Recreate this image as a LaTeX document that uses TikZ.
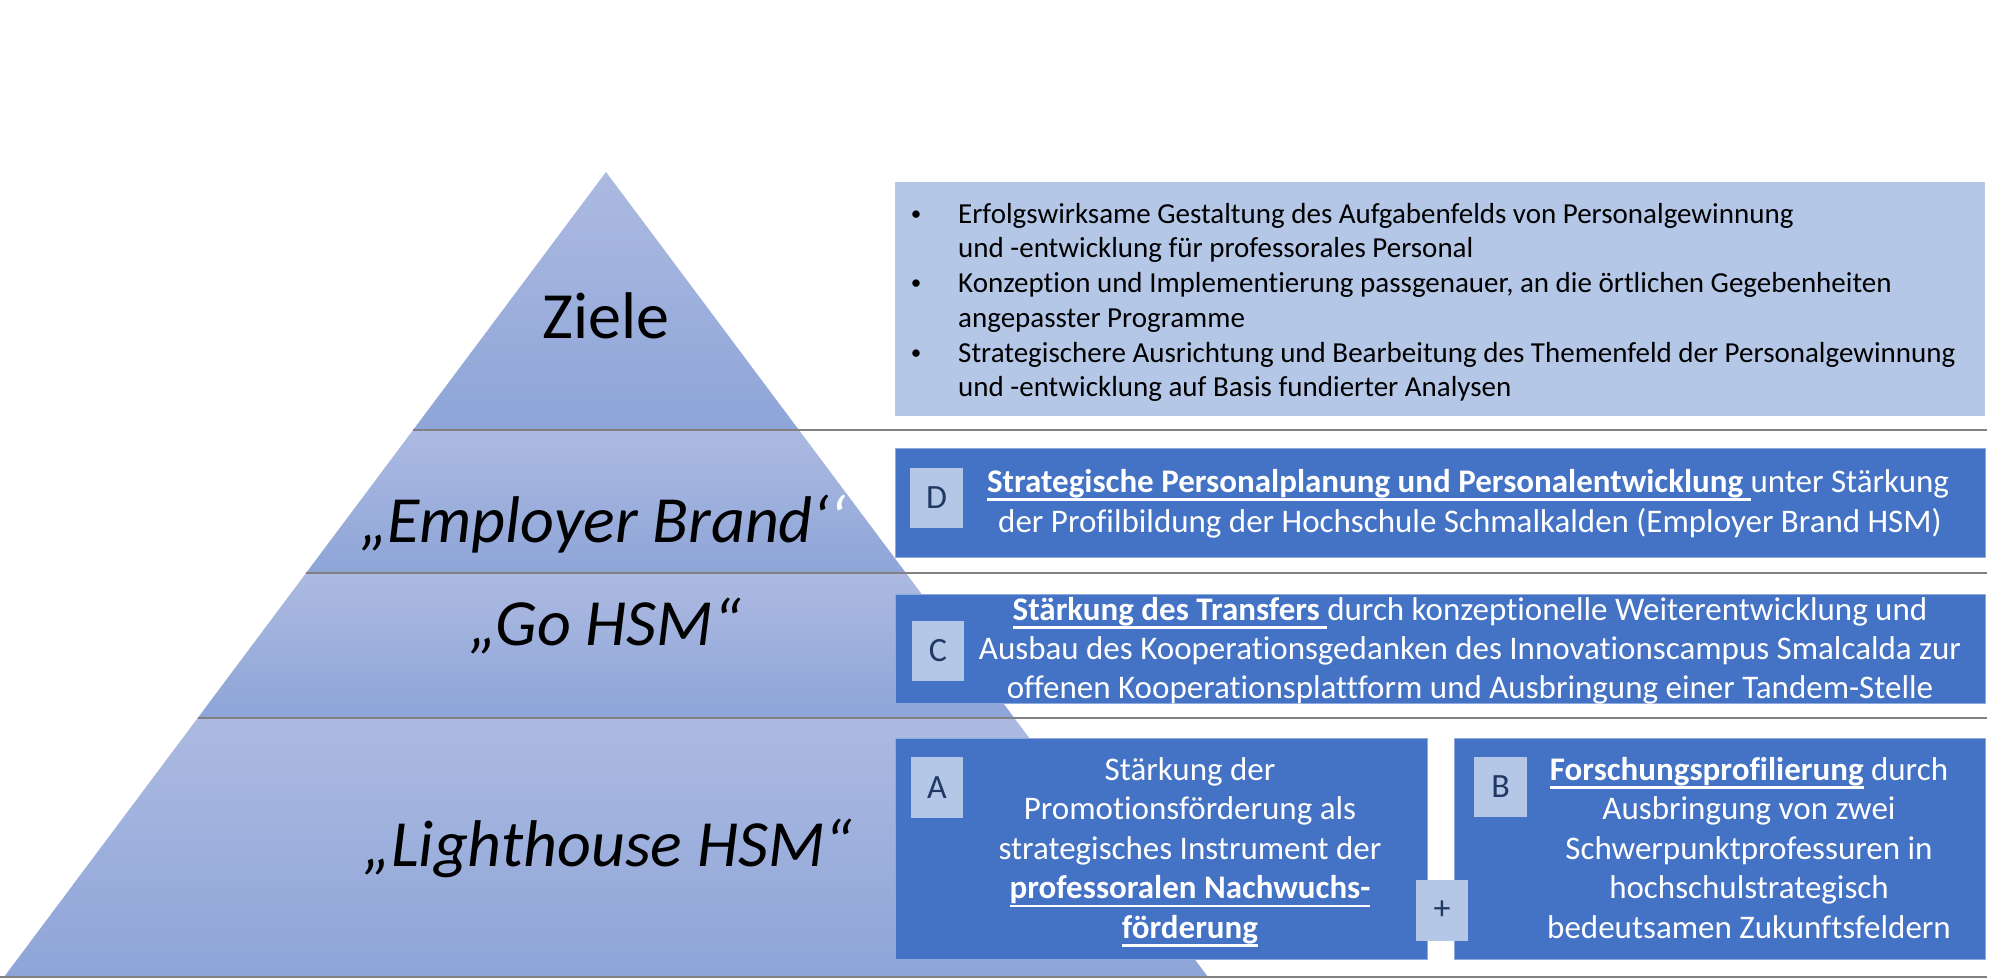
\documentclass[tikz,border=0pt]{standalone}
\usepackage{fontspec}
\setmainfont{Carlito}[Ligatures={NoCommon}]
\definecolor{pyrtop}{RGB}{172,186,225}
\definecolor{pyrbot}{RGB}{142,165,216}
\definecolor{lightbox}{RGB}{180,199,231}
\definecolor{darkbox}{RGB}{68,114,196}
\definecolor{boxedge}{RGB}{143,170,220}
\definecolor{sepgray}{RGB}{128,128,128}
\definecolor{lettercol}{RGB}{32,56,100}
\newsavebox\myulbox
\newcommand\myul[1]{\sbox\myulbox{#1}\rlap{\rule[-8.5pt]{\wd\myulbox}{2.5pt}}\usebox\myulbox}
\tikzset{
  lbl/.style={inner sep=0pt, anchor=base, font=\fontsize{66}{70}\selectfont},
  ziel/.style={inner sep=0pt, anchor=base west, font=\fontsize{29}{35}\selectfont},
  bul/.style={inner sep=0pt, anchor=base, font=\fontsize{21}{25}\selectfont},
  btxt/.style={inner sep=0pt, anchor=base, text=white, font=\fontsize{33}{40}\selectfont},
  sq/.style={fill=lightbox, inner sep=0pt, text=lettercol, font=\fontsize{34}{40}\selectfont},
  darkrect/.style={fill=darkbox, draw=boxedge, line width=1pt},
  sepline/.style={draw=sepgray, line width=2.5pt},
  band/.style={top color=pyrtop, bottom color=pyrbot},
}
\begin{document}
\begin{tikzpicture}[x=1pt,y=-1pt]
\useasboundingbox (0,0) rectangle (1994,979);
\fill[white] (0,0) rectangle (1994,979);
% pyramid bands
\shade[band] (606,172) -- (798.9,430) -- (413.1,430) -- cycle;
\shade[band] (413.1,430) -- (798.9,430) -- (905.9,573) -- (306.1,573) -- cycle;
\shade[band] (306.1,573) -- (905.9,573) -- (1014.3,718) -- (197.7,718) -- cycle;
\shade[band] (197.7,718) -- (1014.3,718) -- (1208,977) -- (4,977) -- cycle;
% separator lines
\draw[sepline] (413.1,430) -- (1987,430);
\draw[sepline] (306.1,573) -- (1987,573);
\draw[sepline] (197.7,718) -- (1987,718);
\draw[sepline] (0,977) -- (1987,977);
% boxes
\fill[lightbox] (895,182) rectangle (1985,416);
\path[darkrect] (895,448) rectangle (1985,557);
\path[darkrect] (895,594) rectangle (1985,703);
\path[darkrect] (895,738) rectangle (1427,959);
\path[darkrect] (1454,738) rectangle (1985,959);
% letter squares
\node[sq, minimum width=53pt, minimum height=60pt] (sqD) at (936.5,498) {D};
\node[sq, minimum width=52pt, minimum height=60pt] (sqC) at (938,651) {C};
\node[sq, minimum width=52pt, minimum height=61pt] (sqA) at (937,787.5) {A};
\node[sq, minimum width=53pt, minimum height=60pt] (sqB) at (1500.5,787) {B};
\node[sq, minimum width=52pt, minimum height=61pt] (sqP) at (1442,910.5) {+};
% pyramid labels
\node[lbl] (lz) at (606,338) {Ziele};
\node[lbl] (le) at (603,542) {\itshape „Employer Brand‘\textcolor{white}{‘}};
\node[lbl] (lg) at (605,645) {\itshape „Go HSM“};
\node[lbl] (ll) at (608,866) {\itshape „Lighthouse HSM“};
% Ziele box text
\node[bul] (zb1) at (916,220) {•};
\node[bul] (zb2) at (916,289) {•};
\node[bul] (zb3) at (916,359) {•};
\node[ziel] (zl1) at (958,223) {Erfolgswirksame Gestaltung des Aufgabenfelds von Personalgewinnung};
\node[ziel] (zl2) at (958,257) {und -entwicklung für professorales Personal};
\node[ziel] (zl3) at (958,292) {Konzeption und Implementierung passgenauer, an die örtlichen Gegebenheiten};
\node[ziel] (zl4) at (958,327) {angepasster Programme};
\node[ziel] (zl5) at (958,362) {Strategischere Ausrichtung und Bearbeitung des Themenfeld der Personalgewinnung};
\node[ziel] (zl6) at (958,396) {und -entwicklung auf Basis fundierter Analysen};
% D
\node[btxt] (d1) at (1468,492) {\myul{\textbf{Strategische Personalplanung und Personalentwicklung} }unter Stärkung};
\node[btxt] (d2) at (1470,532) {der Profilbildung der Hochschule Schmalkalden (Employer Brand HSM)};
% C
\node[btxt] (c1) at (1470,620) {\myul{\textbf{Stärkung des Transfers} }durch konzeptionelle Weiterentwicklung und};
\node[btxt] (c2) at (1470,659) {Ausbau des Kooperationsgedanken des Innovationscampus Smalcalda zur};
\node[btxt] (c3) at (1470,698) {offenen Kooperationsplattform und Ausbringung einer Tandem-Stelle};
% A
\node[btxt] (a1) at (1190,780) {Stärkung der};
\node[btxt] (a2) at (1190,819.5) {Promotionsförderung als};
\node[btxt] (a3) at (1190,859) {strategisches Instrument der};
\node[btxt] (a4) at (1190,898.5) {\myul{\textbf{professoralen Nachwuchs-}}};
\node[btxt] (a5) at (1190,938) {\myul{\textbf{förderung}}};
% B
\node[btxt] (b1) at (1749,780) {\myul{\textbf{Forschungsprofilierung}} durch};
\node[btxt] (b2) at (1749,819.5) {Ausbringung von zwei};
\node[btxt] (b3) at (1749,859) {Schwerpunktprofessuren in};
\node[btxt] (b4) at (1749,898.5) {hochschulstrategisch};
\node[btxt] (b5) at (1749,938) {bedeutsamen Zukunftsfeldern};
\end{tikzpicture}
\end{document}
